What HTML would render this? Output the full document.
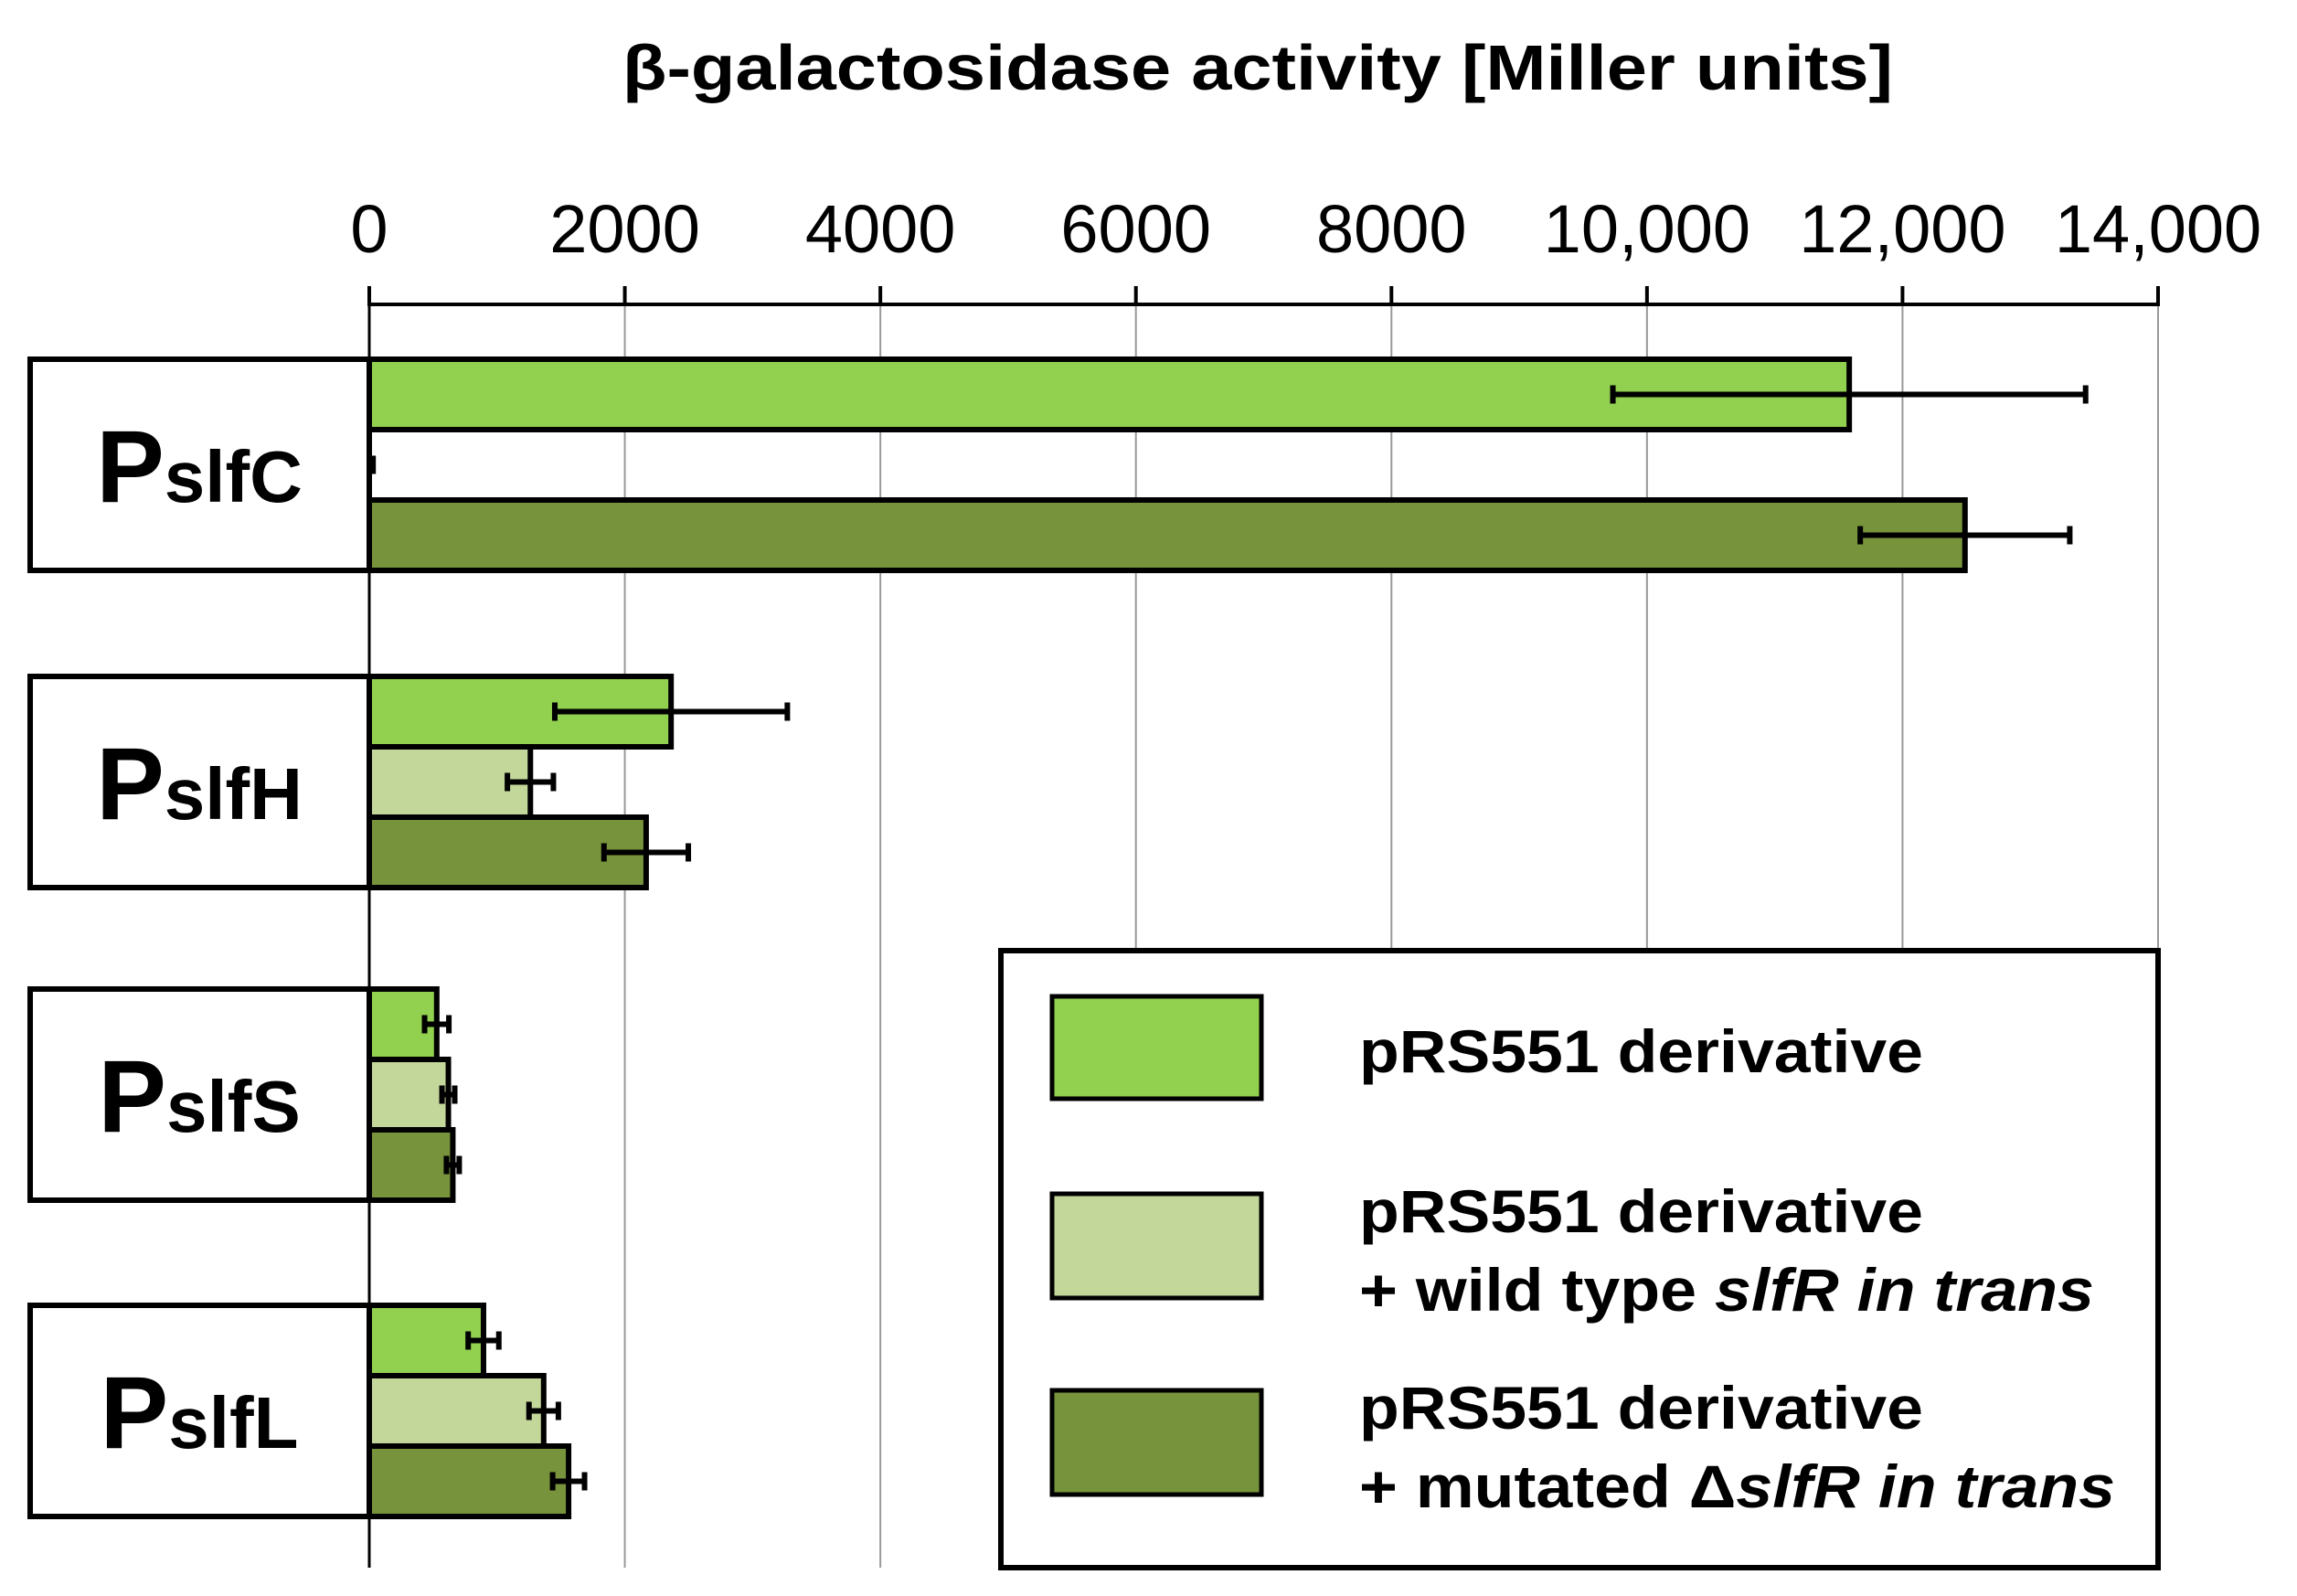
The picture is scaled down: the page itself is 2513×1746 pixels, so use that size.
<!DOCTYPE html>
<html><head><meta charset="utf-8"><style>
html,body{margin:0;padding:0;background:#fff;}
svg{display:block;font-family:"Liberation Sans",Arial,sans-serif;}
</style></head><body>
<svg id="chart" width="2513" height="1746" viewBox="0 0 2513 1746">
<text x="1376" y="98" text-anchor="middle" font-size="70" font-weight="bold" textLength="1390" lengthAdjust="spacingAndGlyphs">β-galactosidase activity [Miller units]</text>
<g id="grid"></g>
<g id="axis"></g>
<g id="bars"></g>
<g id="labels"></g>
<g>
<rect x="1095" y="1040" width="1266" height="675" fill="#fff" stroke="#000" stroke-width="6"/>
<rect x="1151" y="1090" width="229" height="112" fill="#92d050" stroke="#000" stroke-width="5"/>
<rect x="1151" y="1306" width="229" height="114" fill="#c4d79b" stroke="#000" stroke-width="5"/>
<rect x="1151" y="1521" width="229" height="114" fill="#77933c" stroke="#000" stroke-width="5"/>
<g font-size="66" font-weight="bold">
<text x="1487" y="1173" textLength="617" lengthAdjust="spacingAndGlyphs">pRS551 derivative</text>
<text x="1487" y="1348" textLength="617" lengthAdjust="spacingAndGlyphs">pRS551 derivative</text>
<text x="1487" y="1434" textLength="804" lengthAdjust="spacingAndGlyphs">+ wild type <tspan font-style="italic">slfR in trans</tspan></text>
<text x="1487" y="1563" textLength="617" lengthAdjust="spacingAndGlyphs">pRS551 derivative</text>
<text x="1487" y="1649" textLength="827" lengthAdjust="spacingAndGlyphs">+ mutated Δ<tspan font-style="italic">slfR in trans</tspan></text>
</g>
</g>
</svg>
<script>
const categories = ["slfC","slfH","slfS","slfL"];
const seriesNames = ["pRS551 derivative","+ wild type slfR","+ mutated slfR"];
const seriesA = [11583, 2362, 528, 894];
const seriesB = [15, 1261, 619, 1365];
const seriesC = [12489, 2167, 654, 1560];
const errA = [1850, 910, 95, 120];
const errB = [15, 180, 50, 115];
const errC = [820, 330, 50, 125];
const ticks = [0,2000,4000,6000,8000,10000,12000,14000];
const tickLabels = ["0","2000","4000","6000","8000","10,000","12,000","14,000"];

const NS="http://www.w3.org/2000/svg";
const X0=404, X1=2361, XMAX=14000;
const xs=v=>X0+(v/XMAX)*(X1-X0);
const groupTop=[393,740,1082,1428];
const barH=77;
const colors=["#92d050","#c4d79b","#77933c"];
function mk(tag,attrs,parent){const e=document.createElementNS(NS,tag);for(const k in attrs)e.setAttribute(k,attrs[k]);parent.appendChild(e);return e;}
const grid=document.getElementById('grid'),axis=document.getElementById('axis'),bars=document.getElementById('bars'),labels=document.getElementById('labels');
ticks.forEach((t,i)=>{
  const x=xs(t);
  const g=mk('line',{x1:x,x2:x,y1:333,y2:1715,stroke:'#999','stroke-width':2},grid);
  
  
  const tk=mk('line',{x1:x,x2:x,y1:313,y2:335,stroke:'#000','stroke-width':4},axis);
  
  
  const tl=mk('text',{x:x,y:276,'text-anchor':'middle','font-size':74},axis);
  tl.textContent=tickLabels[i];
  
  
});
const al=mk('line',{x1:X0,x2:X1,y1:333,y2:333,stroke:'#000','stroke-width':4},axis);


const series=[seriesA,seriesB,seriesC], errs=[errA,errB,errC];
categories.forEach((c,ci)=>{
  const top=groupTop[ci];
  const box=mk('rect',{x:33,y:top,width:X0-33,height:barH*3,fill:'#fff',stroke:'#000','stroke-width':6},labels);
  
  
  const t=mk('text',{x:218,y:top+156,'text-anchor':'middle','font-weight':'bold'},labels);
  t.innerHTML='<tspan font-size="112">P</tspan><tspan font-size="80">'+c+'</tspan>';
  
  
  series.forEach((s,si)=>{
    const v=s[ci], y=top+si*barH;
    if(v>100){
      const r=mk('rect',{x:X0,y:y,width:xs(v)-X0,height:barH,fill:colors[si],stroke:'#000','stroke-width':6},bars);
      
      
    }
    const e=errs[si][ci], cy=y+barH/2;
    const el=mk('path',{d:`M${xs(v-e)},${cy}H${xs(v+e)}M${xs(v-e)},${cy-10}V${cy+10}M${xs(v+e)},${cy-10}V${cy+10}`,stroke:'#000','stroke-width':6,fill:'none'},bars);
    
    
  });
});
const zl=mk('line',{x1:X0,x2:X0,y1:333,y2:1715,stroke:'#000','stroke-width':3},bars);


</script>
</body></html>
